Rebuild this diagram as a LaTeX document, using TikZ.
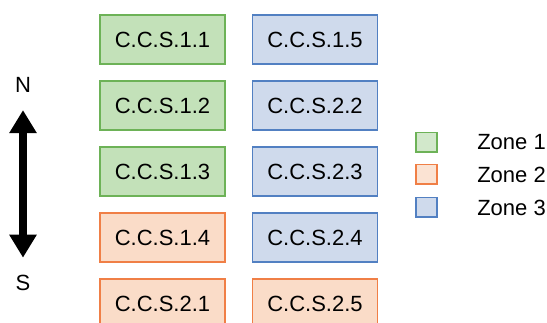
\documentclass[tikz,border=0pt]{standalone}
\usepackage{fontspec}
\setmainfont{Liberation Sans}
\usetikzlibrary{positioning, arrows.meta}
\definecolor{greenfill}{HTML}{C3E1B9}
\definecolor{greenline}{HTML}{6DB257}
\definecolor{orangefill}{HTML}{FADCC8}
\definecolor{orangeline}{HTML}{F07F46}
\definecolor{bluefill}{HTML}{CFDAEC}
\definecolor{blueline}{HTML}{5280C2}

\begin{document}
\begin{tikzpicture}[x=1pt, y=-1pt, node distance=66pt,
        font=\fontsize{22}{25}\selectfont,
        station/.style={draw, line width=1.6pt, minimum width=125pt, minimum height=49pt, inner sep=0pt},
        zoneone/.style={draw=greenline, fill=greenfill},
        zonetwo/.style={draw=orangeline, fill=orangefill},
        zonethree/.style={draw=blueline, fill=bluefill},
        swatch/.style={draw, line width=1.5pt, minimum width=21pt, minimum height=19.5pt, inner sep=0pt}]
        \useasboundingbox (0,0) rectangle (547,323);

        \node (c11) [station, zoneone] at (162.5,39.5) {C.C.S.1.1};
        \node (c12) [station, zoneone, below of=c11] {C.C.S.1.2};
        \node (c13) [station, zoneone, below of=c12] {C.C.S.1.3};
        \node (c14) [station, zonetwo, below of=c13] {C.C.S.1.4};
        \node (c21) [station, zonetwo, below of=c14] {C.C.S.2.1};

        \node (c15) [station, zonethree] at (315,39.5) {C.C.S.1.5};
        \node (c22) [station, zonethree, below of=c15] {C.C.S.2.2};
        \node (c23) [station, zonethree, below of=c22] {C.C.S.2.3};
        \node (c24) [station, zonethree, below of=c23] {C.C.S.2.4};
        \node (c25) [station, zonetwo, below of=c24] {C.C.S.2.5};

        \node (N) at (23,85) {N};
        \node (S) at (23,283) {S};
        \draw[line width=8pt, shorten <=14pt, shorten >=14pt,
            {Triangle[width=26pt,length=23pt]}-{Triangle[width=26pt,length=23pt]}] (N) -- (S);

        \node (z1) [swatch, draw=greenline, fill=greenfill!75!white] at (426.5,142.5) {};
        \node (z2) [swatch, draw=orangeline, fill=orangefill!80!white] at (426.5,174.5) {};
        \node (z3) [swatch, draw=blueline, fill=bluefill] at (426.5,207.5) {};
        \node [right=36pt of z1] {Zone 1};
        \node [right=36pt of z2] {Zone 2};
        \node [right=36pt of z3] {Zone 3};
    \end{tikzpicture}
\end{document}
